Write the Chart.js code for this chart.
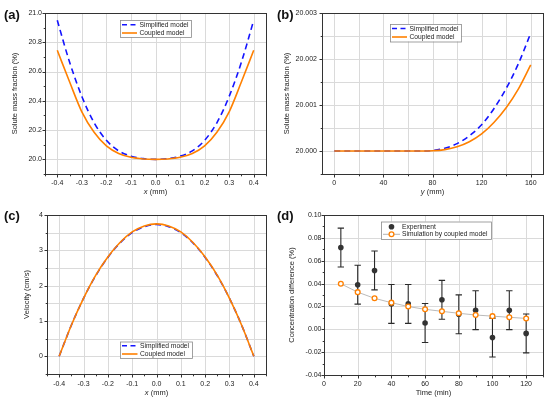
<!DOCTYPE html>
<html>
<head>
<meta charset="utf-8">
<script src="https://cdn.jsdelivr.net/npm/chart.js@4.4.0/dist/chart.umd.min.js"></script>
<style>
  body { margin: 0; background: #fff; width: 550px; height: 402px; position: relative; overflow: hidden;
         font-family: "Liberation Sans", Arial, sans-serif; }
  .panel { position: absolute; }
  .tag { position: absolute; font-weight: bold; font-size: 13px; line-height: 13px; color: #111; }
</style>
</head>
<body>
<div class="panel" style="left:0;top:0;width:275px;height:201px"><canvas id="chartA"></canvas></div>
<div class="panel" style="left:275px;top:0;width:275px;height:201px"><canvas id="chartB"></canvas></div>
<div class="panel" style="left:0;top:200px;width:275px;height:202px"><canvas id="chartC"></canvas></div>
<div class="panel" style="left:275px;top:200px;width:275px;height:202px"><canvas id="chartD"></canvas></div>
<div class="tag" style="left:4px;top:8px">(a)</div>
<div class="tag" style="left:277px;top:8px">(b)</div>
<div class="tag" style="left:4px;top:209px">(c)</div>
<div class="tag" style="left:277px;top:209px">(d)</div>
<script>
// ---- data ----
// (a) and (c): profile across the channel
const xProfile = [-0.4, -0.35, -0.3, -0.25, -0.2, -0.15, -0.1, -0.05, 0, 0.05, 0.1, 0.15, 0.2, 0.25, 0.3, 0.35, 0.4];
const simplifiedA = [20.950, 20.665, 20.430, 20.250, 20.130, 20.058, 20.022, 20.005, 20.000, 20.005, 20.022, 20.058, 20.130, 20.250, 20.430, 20.665, 20.950];
const coupledA = [20.745, 20.530, 20.325, 20.185, 20.092, 20.040, 20.014, 20.003, 20.000, 20.003, 20.014, 20.040, 20.092, 20.185, 20.325, 20.530, 20.745];

// (b): along the channel
const yPos = [0, 10, 20, 30, 40, 50, 60, 70, 80, 90, 100, 110, 120, 130, 140, 150, 160];
const simplifiedB = [20, 20, 20, 20, 20, 20, 20, 20, 20.00001, 20.00006, 20.00016, 20.00033, 20.00057, 20.00092, 20.00136, 20.00190, 20.00256];
const coupledB = [20, 20, 20, 20, 20, 20, 20, 20, 20.000005, 20.00003, 20.00009, 20.00020, 20.00037, 20.00062, 20.00094, 20.00135, 20.00187];

// (c): velocity
const velSimplified = [0, 0.88, 1.64, 2.28, 2.80, 3.21, 3.50, 3.67, 3.73, 3.67, 3.50, 3.21, 2.80, 2.28, 1.64, 0.88, 0];
const velCoupled = [0, 0.88, 1.64, 2.29, 2.81, 3.22, 3.52, 3.69, 3.75, 3.69, 3.52, 3.22, 2.81, 2.29, 1.64, 0.88, 0];

// (d): concentration difference vs time
const timeMin = [10, 20, 30, 40, 50, 60, 70, 80, 90, 100, 110, 120];
const experiment = [0.0715, 0.039, 0.0515, 0.0222, 0.0222, 0.0055, 0.0258, 0.0131, 0.0167, -0.0072, 0.0167, -0.0036];
const experimentErr = [0.017, 0.017, 0.017, 0.017, 0.017, 0.017, 0.017, 0.017, 0.017, 0.017, 0.017, 0.017];
const simulation = [0.0398, 0.0325, 0.0271, 0.0233, 0.0199, 0.0175, 0.0157, 0.0140, 0.0125, 0.0115, 0.0105, 0.0095];

// ---- ticks ----
const aXTicks = [-0.4, -0.3, -0.2, -0.1, 0, 0.1, 0.2, 0.3, 0.4];
const aXMinor = [-0.45, -0.35, -0.25, -0.15, -0.05, 0.05, 0.15, 0.25, 0.35, 0.45];
const aYTicks = [20.0, 20.2, 20.4, 20.6, 20.8, 21.0];
const aYMinor = [19.9, 20.1, 20.3, 20.5, 20.7, 20.9];

const bXTicks = [0, 40, 80, 120, 160];
const bXMinor = [20, 60, 100, 140];
const bYTicks = [20.000, 20.001, 20.002, 20.003];
const bYMinor = [19.9995, 20.0005, 20.0015, 20.0025];

const cXTicks = aXTicks;
const cXMinor = aXMinor;
const cYTicks = [0, 1, 2, 3, 4];
const cYMinor = [-0.5, 0.5, 1.5, 2.5, 3.5];

const dXTicks = [0, 20, 40, 60, 80, 100, 120];
const dXMinor = [10, 30, 50, 70, 90, 110, 130];
const dYTicks = [-0.04, -0.02, 0, 0.02, 0.04, 0.06, 0.08, 0.10];
const dYMinor = [-0.03, -0.01, 0.01, 0.03, 0.05, 0.07, 0.09];

const BLUE = '#1414ff';
const ORANGE = '#ff8000';
const FONT = '"Liberation Sans", Arial, sans-serif';
Chart.defaults.font.family = FONT;

function pts(xs, ys) {
  return xs.map((x, i) => ({ x: x, y: ys[i] }));
}

// grid, frame, ticks, titles, legend, error bars
const framePlugin = {
  id: 'frame',
  beforeDatasetsDraw(chart, args, o) {
    const ctx = chart.ctx, a = chart.chartArea, x = chart.scales.x, y = chart.scales.y;
    ctx.save();
    ctx.strokeStyle = '#dadada';
    ctx.lineWidth = 1;
    ctx.beginPath();
    o.xGrid.forEach(v => {
      const px = Math.round(x.getPixelForValue(v)) + 0.5;
      ctx.moveTo(px, a.top); ctx.lineTo(px, a.bottom);
    });
    o.yGrid.forEach(v => {
      const py = Math.round(y.getPixelForValue(v)) + 0.5;
      ctx.moveTo(a.left, py); ctx.lineTo(a.right, py);
    });
    ctx.stroke();

    // error bars under the markers
    chart.data.datasets.forEach(ds => {
      if (!ds.errors) return;
      ctx.strokeStyle = '#2a2a2a';
      ctx.lineWidth = 1.1;
      ctx.beginPath();
      ds.data.forEach((p, i) => {
        const px = x.getPixelForValue(p.x);
        const top = y.getPixelForValue(p.y + ds.errors[i]);
        const bot = y.getPixelForValue(p.y - ds.errors[i]);
        ctx.moveTo(px, top); ctx.lineTo(px, bot);
        ctx.moveTo(px - 3.2, top); ctx.lineTo(px + 3.2, top);
        ctx.moveTo(px - 3.2, bot); ctx.lineTo(px + 3.2, bot);
      });
      ctx.stroke();
    });
    ctx.restore();
  },
  afterDraw(chart, args, o) {
    const ctx = chart.ctx, a = chart.chartArea, x = chart.scales.x, y = chart.scales.y;
    ctx.save();
    ctx.strokeStyle = '#333';
    ctx.lineWidth = 1;
    ctx.strokeRect(Math.round(a.left) + 0.5, Math.round(a.top) + 0.5,
                   Math.round(a.right - a.left), Math.round(a.bottom - a.top));
    ctx.beginPath();
    const bx = Math.round(a.bottom) + 0.5, lx = Math.round(a.left) + 0.5;
    o.xMajor.forEach(v => { const px = Math.round(x.getPixelForValue(v)) + 0.5; ctx.moveTo(px, bx); ctx.lineTo(px, bx + 3); });
    o.xMinor.forEach(v => { const px = Math.round(x.getPixelForValue(v)) + 0.5; ctx.moveTo(px, bx); ctx.lineTo(px, bx + 1.8); });
    o.yMajor.forEach(v => { const py = Math.round(y.getPixelForValue(v)) + 0.5; ctx.moveTo(lx, py); ctx.lineTo(lx - 3, py); });
    o.yMinor.forEach(v => { const py = Math.round(y.getPixelForValue(v)) + 0.5; ctx.moveTo(lx, py); ctx.lineTo(lx - 1.8, py); });
    ctx.stroke();

    // axis titles
    ctx.fillStyle = '#222';
    ctx.textBaseline = 'middle';
    const pieces = o.xTitle.map(p => ({ t: p.t, f: (p.i ? 'italic ' : '') + '7.5px ' + FONT }));
    let w = 0;
    pieces.forEach(p => { ctx.font = p.f; p.w = ctx.measureText(p.t).width; w += p.w; });
    let cx = (a.left + a.right) / 2 - w / 2;
    ctx.textAlign = 'left';
    pieces.forEach(p => { ctx.font = p.f; ctx.fillText(p.t, cx, o.xTitleY); cx += p.w; });

    ctx.save();
    ctx.translate(o.yTitleX, (a.top + a.bottom) / 2);
    ctx.rotate(-Math.PI / 2);
    ctx.textAlign = 'center';
    ctx.font = '7.5px ' + FONT;
    ctx.fillText(o.yTitle, 0, 0);
    ctx.restore();

    // legend
    const L = o.legend;
    ctx.fillStyle = '#fff';
    ctx.fillRect(L.x, L.y, L.w, L.h);
    ctx.strokeStyle = '#8a8a8a';
    ctx.lineWidth = 0.8;
    ctx.strokeRect(L.x + 0.5, L.y + 0.5, L.w, L.h);
    L.rows.forEach(r => {
      ctx.save();
      if (r.kind === 'dash' || r.kind === 'line') {
        ctx.strokeStyle = r.color;
        ctx.lineWidth = 1.6;
        ctx.setLineDash(r.kind === 'dash' ? [5, 3.5] : []);
        ctx.beginPath(); ctx.moveTo(L.s0, r.y); ctx.lineTo(L.s1, r.y); ctx.stroke();
      } else if (r.kind === 'dot') {
        ctx.fillStyle = r.color;
        ctx.beginPath(); ctx.arc((L.s0 + L.s1) / 2, r.y, 2.8, 0, Math.PI * 2); ctx.fill();
      } else if (r.kind === 'open') {
        ctx.strokeStyle = '#a0a0a0';
        ctx.lineWidth = 0.8;
        ctx.beginPath(); ctx.moveTo(L.s0, r.y); ctx.lineTo(L.s1, r.y); ctx.stroke();
        ctx.fillStyle = '#fff';
        ctx.strokeStyle = r.color;
        ctx.lineWidth = 1.3;
        ctx.beginPath(); ctx.arc((L.s0 + L.s1) / 2, r.y, 2.4, 0, Math.PI * 2); ctx.fill(); ctx.stroke();
      }
      ctx.restore();
      ctx.fillStyle = '#222';
      ctx.font = '6.7px ' + FONT;
      ctx.textAlign = 'left';
      ctx.textBaseline = 'middle';
      ctx.fillText(r.label, L.tx, r.y + 0.3);
    });
    ctx.restore();
  }
};

function panel(id, o) {
  return new Chart(document.getElementById(id), {
    type: 'line',
    data: { datasets: o.datasets },
    options: {
      responsive: true,
      maintainAspectRatio: false,
      animation: false,
      events: [],
      layout: { padding: { top: o.area.top, right: o.area.right, left: 0, bottom: 0 } },
      plugins: { legend: { display: false }, tooltip: { enabled: false }, frame: o.frame },
      scales: {
        x: {
          type: 'linear', min: o.x.min, max: o.x.max,
          grid: { display: false, drawTicks: false }, border: { display: false },
          afterBuildTicks: s => { s.ticks = o.frame.xMajor.map(v => ({ value: v })); },
          afterFit: s => { s.height = o.area.xh; },
          ticks: { autoSkip: false, maxRotation: 0, padding: o.x.pad, color: '#222', font: { size: 7 },
                   callback: v => v.toFixed(o.x.dec) }
        },
        y: {
          type: 'linear', min: o.y.min, max: o.y.max,
          grid: { display: false, drawTicks: false }, border: { display: false },
          afterBuildTicks: s => { s.ticks = o.frame.yMajor.map(v => ({ value: v })); },
          afterFit: s => { s.width = o.area.left; },
          ticks: { autoSkip: false, padding: o.y.pad, color: '#222', font: { size: 7 },
                   callback: v => v.toFixed(o.y.dec) }
        }
      }
    },
    plugins: [framePlugin]
  });
}

function curve(label, xs, ys, color, dashed) {
  return {
    label: label, data: pts(xs, ys), borderColor: color, borderWidth: 1.6,
    borderDash: dashed ? [6, 4] : [], pointRadius: 0, cubicInterpolationMode: 'monotone',
    order: dashed ? 2 : 1
  };
}

const modelRows = (y1, y2) => [
  { y: y1, kind: 'dash', color: BLUE, label: 'Simplified model' },
  { y: y2, kind: 'line', color: ORANGE, label: 'Coupled model' }
];

panel('chartA', {
  area: { top: 13, right: 9, left: 45, xh: 27 },
  x: { min: -0.45, max: 0.45, dec: 1, pad: 5 },
  y: { min: 19.9, max: 21.0, dec: 1, pad: 3 },
  datasets: [
    curve('Simplified model', xProfile, simplifiedA, BLUE, true),
    curve('Coupled model', xProfile, coupledA, ORANGE, false)
  ],
  frame: {
    xMajor: aXTicks, xMinor: aXMinor, yMajor: aYTicks, yMinor: aYMinor,
    xGrid: aXTicks, yGrid: aYTicks,
    xTitle: [{ t: 'x', i: true }, { t: ' (mm)' }], xTitleY: 192, yTitle: 'Solute mass fraction (%)', yTitleX: 15,
    legend: { x: 120, y: 20, w: 71, h: 17, s0: 122, s1: 137, tx: 139.5, rows: modelRows(24.8, 33) }
  }
});

panel('chartB', {
  area: { top: 13, right: 7, left: 47, xh: 27 },
  x: { min: -10, max: 170, dec: 0, pad: 5 },
  y: { min: 19.9995, max: 20.003, dec: 3, pad: 5 },
  datasets: [
    curve('Simplified model', yPos, simplifiedB, BLUE, true),
    curve('Coupled model', yPos, coupledB, ORANGE, false)
  ],
  frame: {
    xMajor: bXTicks, xMinor: bXMinor, yMajor: bYTicks, yMinor: bYMinor,
    xGrid: bXTicks.concat(bXMinor), yGrid: bYTicks.concat(bYMinor),
    xTitle: [{ t: 'y', i: true }, { t: ' (mm)' }], xTitleY: 192, yTitle: 'Solute mass fraction (%)', yTitleX: 12,
    legend: { x: 115, y: 24, w: 71, h: 17.5, s0: 117, s1: 132, tx: 134.5, rows: modelRows(28.5, 37) }
  }
});

panel('chartC', {
  area: { top: 15, right: 9, left: 47, xh: 28 },
  x: { min: -0.45, max: 0.45, dec: 1, pad: 5.5 },
  y: { min: -0.5, max: 4, dec: 0, pad: 4 },
  datasets: [
    curve('Simplified model', xProfile, velSimplified, BLUE, true),
    curve('Coupled model', xProfile, velCoupled, ORANGE, false)
  ],
  frame: {
    xMajor: cXTicks, xMinor: cXMinor, yMajor: cYTicks, yMinor: cYMinor,
    xGrid: cXTicks, yGrid: cYTicks.concat(cYMinor),
    xTitle: [{ t: 'x', i: true }, { t: ' (mm)' }], xTitleY: 192.5, yTitle: 'Velocity (cm/s)', yTitleX: 27,
    legend: { x: 120, y: 141.5, w: 72, h: 16.5, s0: 122, s1: 137.5, tx: 140, rows: modelRows(145.7, 154) }
  }
});

panel('chartD', {
  area: { top: 15, right: 7, left: 49, xh: 27 },
  x: { min: 0, max: 130, dec: 0, pad: 5 },
  y: { min: -0.04, max: 0.10, dec: 2, pad: 2.5 },
  datasets: [
    {
      label: 'Simulation by coupled model', data: pts(timeMin, simulation),
      borderColor: '#a8a8a8', borderWidth: 0.8, pointRadius: 2.4, pointBorderWidth: 1.3,
      pointBackgroundColor: '#fff', pointBorderColor: ORANGE, order: 1
    },
    {
      label: 'Experiment', data: pts(timeMin, experiment), errors: experimentErr,
      showLine: false, pointRadius: 2.8, pointBorderWidth: 0,
      pointBackgroundColor: '#333', pointBorderColor: '#333', order: 2
    }
  ],
  frame: {
    xMajor: dXTicks, xMinor: dXMinor, yMajor: dYTicks, yMinor: dYMinor,
    xGrid: dXTicks, yGrid: dYTicks,
    xTitle: [{ t: 'Time (min)' }], xTitleY: 192.5, yTitle: 'Concentration difference (%)', yTitleX: 17,
    legend: { x: 106, y: 21.5, w: 110, h: 17.5, s0: 108, s1: 125, tx: 127, rows: [
      { y: 26.7, kind: 'dot', color: '#333', label: 'Experiment' },
      { y: 34.3, kind: 'open', color: ORANGE, label: 'Simulation by coupled model' }
    ] }
  }
});
</script>
</body>
</html>
